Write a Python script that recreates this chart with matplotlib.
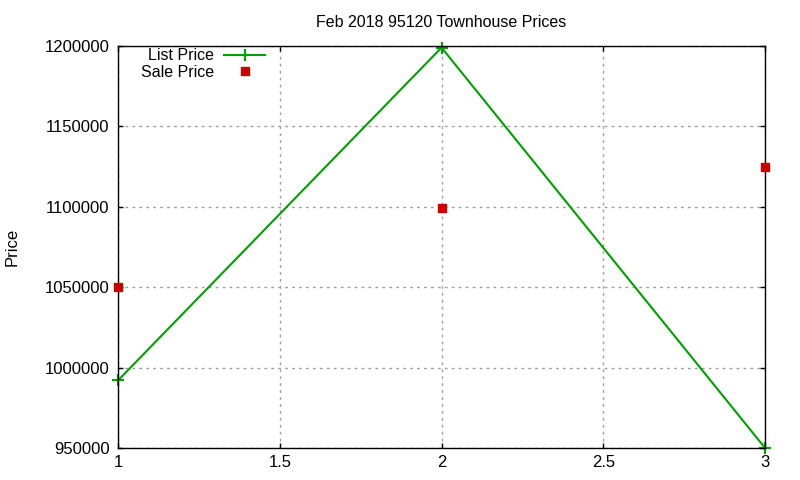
#!/usr/bin/env python3

import matplotlib
matplotlib.use("Agg")
import matplotlib.pyplot as plt
from matplotlib.ticker import FuncFormatter

# Data
months = [1, 2, 3]
list_price = [992000, 1199000, 950000]
sale_price = [1050000, 1099000, 1125000]

plt.rcParams['font.family'] = ['Liberation Sans', 'DejaVu Sans']

fig = plt.figure(figsize=(8, 4.8), dpi=100)
ax = fig.add_axes([0.1475, 0.0667, 0.8088, 0.8375])

ax.plot(months, list_price, color="#00a000", linewidth=1.5, marker="+",
        markersize=8, markeredgewidth=1.5, label="List Price", clip_on=False)
ax.plot(months, sale_price, color="#cc0000", linestyle="none", marker="s",
        markersize=6, label="Sale Price", clip_on=False, zorder=3)

ax.set_xlim(1, 3)
ax.set_ylim(950000, 1200000)
ax.set_xticks([1, 1.5, 2, 2.5, 3])
ax.set_yticks(range(950000, 1200001, 50000))
ax.xaxis.set_major_formatter(FuncFormatter(lambda v, p: "%g" % v))
ax.yaxis.set_major_formatter(FuncFormatter(lambda v, p: "%d" % v))
ax.tick_params(direction="in", top=True, right=True, length=3.5, width=1,
               labelsize=12)
ax.tick_params(axis="y", pad=6)
ax.tick_params(axis="x", pad=5)
for s in ax.spines.values():
    s.set_linewidth(1.0)

ax.grid(True, color="#a0a0a0", linestyle=(0, (2, 3)), linewidth=1)

ax.set_title("Feb 2018 95120 Townhouse Prices", fontsize=11.5, pad=14)
ax.set_ylabel("Price", fontsize=12)
ax.yaxis.set_label_coords(-0.152, 0.5)

ax.legend(loc="upper left", markerfirst=False, frameon=False, fontsize=11.5,
          borderaxespad=0.0, handlelength=2.6, handletextpad=0.6,
          labelspacing=0.1, bbox_to_anchor=(0.026, 1.01))

plt.savefig("out.png")
